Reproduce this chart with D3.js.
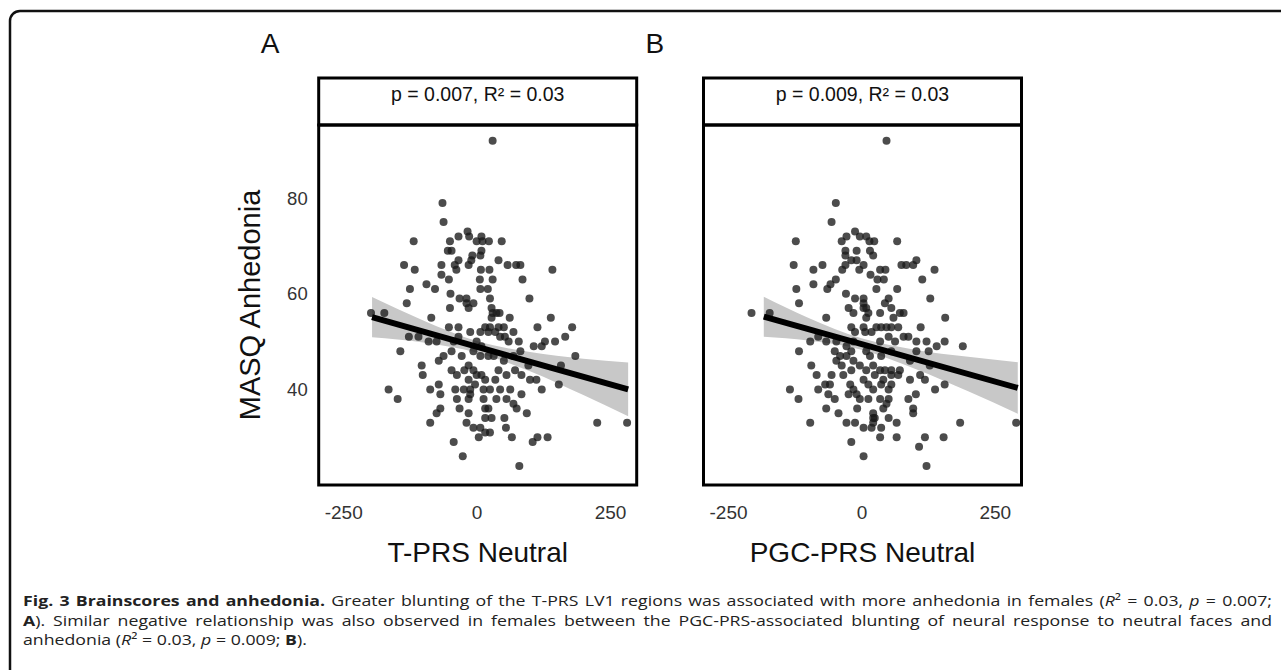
<!DOCTYPE html>
<html>
<head>
<meta charset="utf-8">
<script src="https://cdn.jsdelivr.net/npm/d3@7"></script>
<style>
  html, body { margin: 0; padding: 0; background: #fff; }
  svg { display: block; }
</style>
</head>
<body>
<div id="chart"></div>
<script>
// ---- data ----
const panelLetters = ["A", "B"];
const stripLabels = ["p = 0.007, R\u00b2 = 0.03", "p = 0.009, R\u00b2 = 0.03"];
const xTitles = ["T-PRS Neutral", "PGC-PRS Neutral"];
const yTitle = "MASQ Anhedonia";
const xTicks = [-250, 0, 250];
const yTicks = [40, 60, 80];
const xDomain = [-296, 300];
const yDomain = [20, 95.3];

// [brainscore, MASQ anhedonia]
const pointsA = [
  [30,92],[-64,79],[-62,75],[-118,71],[-17,73],[-34,72],[-50,71],[-14,72],[0,71],[9,72],[11,71],[23,71],[47,71],
  [-54,69],[-47,69],[9,69],[-8,68],[7,68],[-34,67],[-15,66],[-10,67],[41,67],[-136,66],[-116,65],[-66,66],[-41,66],
  [-38,65],[8,65],[24,65],[58,66],[74,66],[82,66],[142,65],[-66,64],[-52,63],[6,63],[30,63],[86,63],[-94,62],
  [-78,61],[-125,61],[7,61],[21,61],[-49,60],[-32,59],[-19,59],[-6,58],[25,59],[99,59],[-131,58],[-50,57],[-15,57],
  [30,56],[43,56],[-198,56],[-173,56],[-85,55],[139,55],[62,55],[-19,58],[28,57],[37,56],[28,55],[-143,48],[-127,51],
  [-109,51],[-90,50],[-75,50],[-52,53],[-34,53],[-12,52],[7,52],[16,53],[25,53],[41,53],[51,53],[22,52],[35,52],
  [-43,50],[-34,51],[69,52],[79,50],[44,51],[53,51],[60,50],[107,49],[122,49],[128,50],[147,50],[114,53],[0,50],
  [9,49],[-62,47],[-71,46],[-47,48],[-28,47],[-6,48],[7,47],[22,47],[32,47],[51,46],[69,47],[82,48],[97,45],
  [-103,45],[-101,43],[-47,44],[-37,43],[-23,44],[-15,45],[-6,44],[0,43],[9,43],[41,44],[56,43],[72,44],[84,43],
  [100,42],[112,42],[35,42],[16,42],[-15,42],[-165,40],[-148,38],[-87,40],[-71,41],[-68,39],[-40,40],[-24,40],[-12,40],
  [-3,41],[13,40],[25,40],[44,40],[63,40],[84,39],[122,40],[154,41],[-37,38],[-15,38],[-12,39],[13,38],[37,38],[56,38],
  [69,37],[75,36],[-68,36],[-75,35],[-32,36],[-15,35],[16,36],[22,36],[28,34],[16,34],[52,34],[55,32],[94,35],
  [-87,33],[-19,33],[-6,32],[7,32],[16,31],[25,31],[4,30],[66,30],[114,30],[133,30],[105,29],[-43,29],[-26,26],
  [80,24],[166,51],[179,53],[158,45],[185,47],[226,33],[282,33]
];
const pointsB = [
  [47,92],[-48,79],[-56,75],[-123,71],[-28,72],[-12,73],[-3,72],[9,72],[15,71],[24,71],[-37,71],[67,71],[-30,69],
  [-9,69],[16,69],[-30,68],[22,68],[-19,67],[-9,67],[103,67],[-127,66],[-73,66],[-30,66],[4,66],[75,66],[84,66],
  [97,66],[-90,65],[-36,65],[-4,65],[35,65],[45,65],[137,65],[17,64],[30,63],[42,63],[114,63],[-48,63],[-58,62],
  [-64,61],[-90,62],[-122,61],[28,61],[67,61],[-29,60],[-12,59],[4,59],[4,58],[44,58],[51,59],[129,59],[-117,58],
  [-24,57],[-15,56],[9,57],[13,56],[35,56],[56,57],[60,55],[79,56],[-206,56],[-172,56],[-66,55],[157,55],[4,57],
  [9,55],[72,56],[-19,53],[4,53],[28,53],[37,53],[47,53],[56,53],[69,53],[-12,52],[7,52],[19,52],[111,53],
  [-96,50],[-81,51],[-66,50],[-47,50],[-28,49],[-15,50],[35,50],[51,51],[63,50],[79,51],[88,51],[103,50],[122,50],
  [141,49],[156,50],[-117,48],[-50,48],[-40,47],[-28,47],[-19,48],[9,48],[16,47],[37,47],[56,48],[91,46],[103,48],
  [126,48],[128,45],[-94,45],[-84,43],[-47,46],[-37,45],[-15,46],[-56,43],[-34,43],[-19,44],[-3,45],[9,44],[22,45],
  [35,44],[44,44],[56,44],[72,44],[4,42],[25,43],[41,42],[56,43],[69,43],[91,42],[110,43],[119,42],[156,41],
  [-134,40],[-118,38],[-81,40],[-68,41],[-59,41],[-62,39],[-50,38],[-21,41],[-15,40],[-9,39],[13,41],[22,40],[37,41],
  [51,40],[56,41],[-24,39],[-3,38],[13,38],[35,38],[51,38],[88,38],[102,39],[138,40],[-66,36],[-43,35],[-8,36],
  [22,35],[25,34],[41,36],[47,37],[97,36],[97,35],[-96,33],[-28,33],[-12,33],[4,32],[19,32],[37,32],[22,34],
  [22,33],[51,34],[66,33],[35,30],[66,30],[-19,29],[119,30],[154,30],[108,28],[4,26],[122,24],[185,33],[290,33],
  [190,49]
];

// linear fit end points and confidence band [x, lower, upper]
const fitA = [[-196, 55.1], [284, 40.0]];
const fitB = [[-183, 55.2], [293, 40.3]];
const bandA = [[-196,50.9,59.3],[-100,49.8,54.4],[0,47.7,50.1],[100,43.8,47.8],[200,38.8,46.4],[284,34.4,45.6]];
const bandB = [[-183,51.0,59.4],[-100,50.2,55.0],[0,48.3,50.7],[100,44.3,48.3],[200,39.6,46.8],[293,34.9,45.7]];

// ---- layout ----
const W = 1281, H = 670;
const panelLeft = [318.7, 703.5];
const panelWidth = 318;
const stripTop = 78, panelTop = 125, panelBottom = 485;
const FONT = "'Liberation Sans', Arial, Helvetica, sans-serif";

const svg = d3.select("#chart").append("svg")
    .attr("width", W)
    .attr("height", H);

// outer frame (left + top edge, rounded corner)
svg.append("path")
    .attr("d", `M10,${H} V21 A10,10 0 0 1 20,11 H${W}`)
    .attr("fill", "none")
    .attr("stroke", "#111")
    .attr("stroke-width", 2.5);

const y = d3.scaleLinear().domain(yDomain).range([panelBottom, panelTop]);

const panels = [
    { points: pointsA, fit: fitA, band: bandA },
    { points: pointsB, fit: fitB, band: bandB }
];

panels.forEach((p, i) => {
    const left = panelLeft[i];
    const x = d3.scaleLinear().domain(xDomain).range([left, left + panelWidth]);
    const g = svg.append("g");

    // panel letter
    g.append("text")
        .attr("x", left - 58)
        .attr("y", 53)
        .attr("font-family", FONT)
        .attr("font-size", 28)
        .attr("fill", "#111")
        .text(panelLetters[i]);

    // clip to panel area
    const clipId = `clip-${i}`;
    g.append("clipPath").attr("id", clipId)
      .append("rect")
        .attr("x", left).attr("y", panelTop)
        .attr("width", panelWidth).attr("height", panelBottom - panelTop);

    const inner = g.append("g").attr("clip-path", `url(#${clipId})`);

    // confidence band
    const area = d3.area()
        .x(d => x(d[0]))
        .y0(d => y(d[1]))
        .y1(d => y(d[2]))
        .curve(d3.curveMonotoneX);
    inner.append("path")
        .datum(p.band)
        .attr("d", area)
        .attr("fill", "#c8c8c8");

    // points
    inner.selectAll("circle")
        .data(p.points)
        .enter().append("circle")
        .attr("cx", d => x(d[0]))
        .attr("cy", d => y(d[1]))
        .attr("r", 4)
        .attr("fill", "#1a1a1a")
        .attr("fill-opacity", 0.78);

    // regression line
    inner.append("path")
        .datum(p.fit)
        .attr("d", d3.line().x(d => x(d[0])).y(d => y(d[1])))
        .attr("stroke", "#000")
        .attr("stroke-width", 6)
        .attr("fill", "none");

    // strip
    g.append("rect")
        .attr("x", left).attr("y", stripTop)
        .attr("width", panelWidth).attr("height", panelTop - stripTop)
        .attr("fill", "#fff")
        .attr("stroke", "#000")
        .attr("stroke-width", 3);
    g.append("text")
        .attr("x", left + panelWidth / 2)
        .attr("y", 101)
        .attr("text-anchor", "middle")
        .attr("font-family", FONT)
        .attr("font-size", 19.5)
        .attr("fill", "#111")
        .text(stripLabels[i]);

    // panel border
    g.append("rect")
        .attr("x", left).attr("y", panelTop)
        .attr("width", panelWidth).attr("height", panelBottom - panelTop)
        .attr("fill", "none")
        .attr("stroke", "#000")
        .attr("stroke-width", 3);

    // x axis (plain hyphen minus, as in the figure)
    const xAxis = g.append("g")
        .attr("transform", `translate(0,${panelBottom + 3})`)
        .call(d3.axisBottom(x).tickValues(xTicks).tickSize(0).tickPadding(18)
            .tickFormat(d => String(d)));
    xAxis.select(".domain").remove();
    xAxis.selectAll("text")
        .attr("font-family", FONT)
        .attr("font-size", 19)
        .attr("fill", "#333");

    g.append("text")
        .attr("x", left + panelWidth / 2)
        .attr("y", 562)
        .attr("text-anchor", "middle")
        .attr("font-family", FONT)
        .attr("font-size", 28)
        .attr("fill", "#111")
        .text(xTitles[i]);

    // y axis only on the first panel
    if (i === 0) {
        const yAxis = g.append("g")
            .attr("transform", `translate(${left},0)`)
            .call(d3.axisLeft(y).tickValues(yTicks).tickSize(0).tickPadding(11));
        yAxis.select(".domain").remove();
        yAxis.selectAll("text")
            .attr("font-family", FONT)
            .attr("font-size", 18.5)
            .attr("fill", "#333");

        g.append("text")
            .attr("transform", `translate(260,${(panelTop + panelBottom) / 2}) rotate(-90)`)
            .attr("text-anchor", "middle")
            .attr("font-family", FONT)
            .attr("font-size", 29)
            .attr("fill", "#111")
            .text(yTitle);
    }
});

// ---- caption (justified lines 1-2) ----
const captionLines = [
    [
        { t: "Fig. 3 Brainscores and anhedonia.", b: true },
        { t: " Greater blunting of the T-PRS LV1 regions was associated with more anhedonia in females (" },
        { t: "R", it: true }, { t: "\u00b2 = 0.03, " }, { t: "p", it: true }, { t: " = 0.007;" }
    ],
    [
        { t: "A", b: true },
        { t: "). Similar negative relationship was also observed in females between the PGC-PRS-associated blunting of neural response to neutral faces and" }
    ],
    [
        { t: "anhedonia (" }, { t: "R", it: true }, { t: "\u00b2 = 0.03, " }, { t: "p", it: true },
        { t: " = 0.009; " }, { t: "B", b: true }, { t: ")." }
    ]
];
const captionY = [606, 626, 645];
const captionLeft = 23, captionRight = 1272;
const captionSize = 14.5;

// split a line into word runs, each run a list of styled pieces
function toWords(parts) {
    const words = [[]];
    parts.forEach(p => {
        p.t.split(/( )/).forEach(tok => {
            if (tok === " ") { if (words[words.length - 1].length) words.push([]); }
            else if (tok) words[words.length - 1].push({ t: tok, b: p.b, it: p.it });
        });
    });
    return words.filter(w => w.length);
}

const capG = svg.append("g");
const lineWords = captionLines.map(toWords);

// measure each word
function drawLine(words, yPos) {
    const t = capG.append("text")
        .attr("font-family", "'Open Sans', 'Noto Sans', sans-serif")
        .attr("font-size", captionSize)
        .attr("fill", "#222");
    const widths = words.map(w => {
        let total = 0;
        w.forEach(piece => {
            const ts = t.append("tspan")
                .attr("font-weight", piece.b ? 700 : 400)
                .attr("font-style", piece.it ? "italic" : null)
                .text(piece.t);
            piece.node = ts;
            piece.w = ts.node().getComputedTextLength();
            total += piece.w;
        });
        return total;
    });
    return { t, widths, yPos };
}

const drawn = lineWords.map((w, i) => drawLine(w, captionY[i]));
const spaceW = captionSize * 0.26;
const natural2 = d3.sum(drawn[1].widths) + spaceW * (drawn[1].widths.length - 1);
const sx = (captionRight - captionLeft) / natural2 * 0.95;

drawn.forEach((d, i) => {
    const words = lineWords[i];
    const target = (captionRight - captionLeft) / sx;
    const sumW = d3.sum(d.widths);
    const gap = i < 2 ? (target - sumW) / (words.length - 1) : spaceW;
    let cx = 0;
    words.forEach((w, k) => {
        let px = cx;
        w.forEach(piece => {
            piece.node.attr("x", px);
            px += piece.w;
        });
        cx += d.widths[k] + gap;
    });
    d.t.attr("transform", `translate(${captionLeft},${d.yPos}) scale(${sx},1)`);
});
</script>
</body>
</html>
